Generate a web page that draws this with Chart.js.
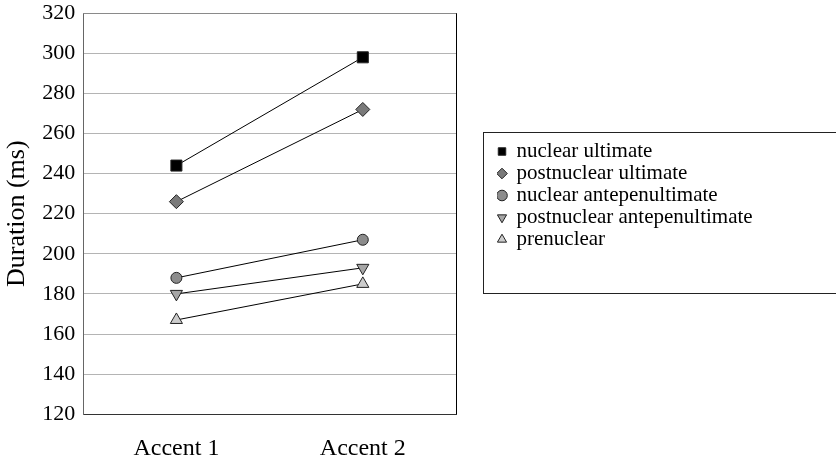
<!DOCTYPE html>
<html>
  <head>
    <meta charset="UTF-8">
    <title>duration chart</title>
    <script src="https://cdn.jsdelivr.net/npm/chart.js@4/dist/chart.umd.min.js"></script>
    <style type="text/css">
      body { margin: 0; background: #fff; }
    </style>
  </head>
  <body>
    <div>
      <canvas id="myChart" width="836" height="460"></canvas>
    </div>
    <script>
    var categories = ['Accent 1', 'Accent 2'];
    var nuclearUltimate = [244, 298];
    var postnuclearUltimate = [226, 272];
    var nuclearAntepenultimate = [188, 207];
    var postnuclearAntepenultimate = [180, 193];
    var prenuclear = [167, 185];
    var yMin = 120, yMax = 320, yStep = 20;

    Chart.defaults.font.family = "'Liberation Serif', 'Times New Roman', serif";
    Chart.defaults.color = '#000';

    function series(label, data, style, radius, fill, rotation) {
      return {
        label: label,
        data: data,
        borderColor: '#000',
        borderWidth: 1,
        pointStyle: style,
        pointRadius: radius,
        pointHoverRadius: radius,
        pointBackgroundColor: fill,
        pointBorderColor: '#222',
        pointBorderWidth: 1,
        pointRotation: rotation || 0,
        backgroundColor: fill,
        tension: 0,
        fill: false
      };
    }

    // legend sits in a fixed-width column on the right, with a frame round it
    var legendBox = {
      id: 'legendBox',
      beforeUpdate: function(chart) {
        var lg = chart.legend;
        if (lg && !lg._patched) {
          var fit = lg.fit;
          lg.fit = function() { fit.call(this); this.width = 380; };
          lg._patched = true;
        }
      },
      afterLayout: function(chart) {
        var lg = chart.legend;
        lg.left = chart.chartArea.right + 41;
        lg.right = chart.width;
        lg.top = 140;
        lg.bottom = chart.height;
        lg.width = lg.right - lg.left;
        lg.height = lg.bottom - lg.top;
      },
      beforeDatasetsDraw: function(chart) {
        var ctx = chart.ctx, a = chart.chartArea;
        ctx.save();
        ctx.lineWidth = 1;
        ctx.strokeStyle = '#8a8a8a';
        ctx.beginPath();
        ctx.moveTo(a.left, Math.round(a.top) + 0.5);
        ctx.lineTo(a.right, Math.round(a.top) + 0.5);
        ctx.stroke();
        ctx.strokeStyle = '#000';
        ctx.beginPath();
        ctx.moveTo(Math.round(a.right) + 0.5, a.top);
        ctx.lineTo(Math.round(a.right) + 0.5, a.bottom);
        ctx.stroke();
        ctx.restore();
      },
      afterDraw: function(chart) {
        var ctx = chart.ctx, lg = chart.legend;
        ctx.save();
        ctx.lineWidth = 1;
        ctx.strokeStyle = '#222';
        ctx.strokeRect(Math.round(lg.left) - 14 + 0.5, Math.round(lg.top) - 8 + 0.5, 400, 161);
        ctx.restore();
      }
    };

    var ctx = document.getElementById('myChart').getContext('2d');
    var chart = new Chart(ctx, {
      type: 'line',
      data: {
        labels: categories,
        datasets: [
          series('nuclear ultimate', nuclearUltimate, 'rect', 7.8, '#000'),
          series('postnuclear ultimate', postnuclearUltimate, 'rectRot', 7, '#7a7a7a'),
          series('nuclear antepenultimate', nuclearAntepenultimate, 'circle', 5.5, '#8c8c8c'),
          series('postnuclear antepenultimate', postnuclearAntepenultimate, 'triangle', 7, '#a6a6a6', 180),
          series('prenuclear', prenuclear, 'triangle', 7, '#cccccc')
        ]
      },
      options: {
        responsive: false,
        animation: false,
        devicePixelRatio: 1,
        layout: { padding: { top: 0, left: 0, right: 0, bottom: -23 } },
        plugins: {
          tooltip: { enabled: false },
          legend: {
            position: 'right',
            align: 'start',
            labels: {
              usePointStyle: true,
              boxWidth: 8,
              boxHeight: 7.5,
              padding: 1,
              color: '#000',
              font: { size: 21 }
            }
          }
        },
        scales: {
          x: {
            offset: true,
            grid: { display: false, drawTicks: false },
            border: { display: true, color: '#333' },
            ticks: { padding: 20, font: { size: 24 } }
          },
          y: {
            min: yMin,
            max: yMax,
            ticks: { stepSize: yStep, padding: 0, font: { size: 22 } },
            grid: { color: '#b4b4b4', drawTicks: true, tickLength: 8, tickColor: 'rgba(0,0,0,0)' },
            border: { display: true, color: '#666' },
            title: {
              display: true,
              text: 'Duration (ms)',
              font: { size: 26 },
              padding: { top: 2, bottom: 9 }
            }
          }
        }
      },
      plugins: [legendBox]
    });
    </script>
  </body>
</html>
